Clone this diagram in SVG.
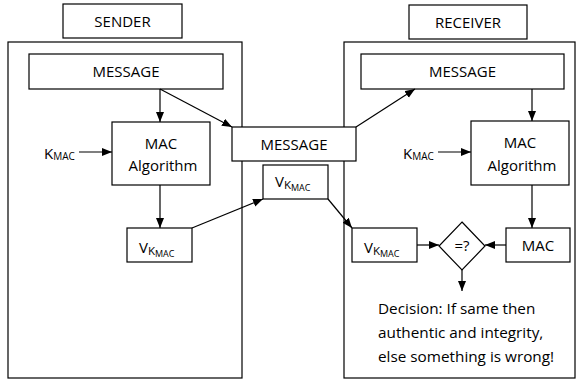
<svg xmlns="http://www.w3.org/2000/svg" width="576" height="383" viewBox="0 0 576 383">
<defs>
<marker id="ah" markerUnits="userSpaceOnUse" markerWidth="11" markerHeight="9" refX="10" refY="4" orient="auto">
<path d="M0,0 L10,4 L0,8 z" fill="#000"/>
</marker>
<style>
rect, polygon { fill: #fff; stroke: #000; stroke-width: 1.2; }
text { font-family: "Open Sans", "Liberation Sans", Arial, sans-serif; font-size: 15px; fill: #000; }
.c { text-anchor: middle; }
.k { font-size: 11.5px; }
.m { font-size: 9px; }
.m2 { font-size: 10px; }
.d { font-size: 15.3px; }
#connectors line { stroke: #000; stroke-width: 1.2; marker-end: url(#ah); }
</style>
</defs>
<rect x="0" y="0" width="576" height="383" style="fill:#fff;stroke:none"/>
<g id="sender-panel">
<rect x="8" y="42" width="234" height="336"/>
</g>
<g id="receiver-panel">
<rect x="344" y="42" width="231" height="336"/>
</g>
<g id="sender-label">
<rect x="63" y="4" width="119" height="34"/>
<text class="c" x="122.5" y="27">SENDER</text>
</g>
<g id="receiver-label">
<rect x="409" y="5" width="118" height="34"/>
<text class="c" x="468" y="28">RECEIVER</text>
</g>
<g id="sender-message">
<rect x="29" y="54" width="194" height="35"/>
<text class="c" x="126" y="77">MESSAGE</text>
</g>
<g id="sender-mac-algorithm">
<rect x="112" y="122" width="98" height="63"/>
<text class="c" x="161" y="149">MAC</text>
<text class="c" x="163" y="171">Algorithm</text>
</g>
<g id="sender-kmac">
<text x="44" y="159">K<tspan class="m2" dy="1">MAC</tspan></text>
</g>
<g id="sender-vkmac">
<rect x="127" y="228" width="65" height="34"/>
<text x="139" y="253">V<tspan class="k" dy="1.5">K</tspan><tspan class="m" dy="2.5">MAC</tspan></text>
</g>
<g id="transit-message">
<rect x="232" y="127" width="124" height="34"/>
<text class="c" x="294" y="150">MESSAGE</text>
</g>
<g id="transit-vkmac">
<rect x="263" y="165" width="65" height="34"/>
<text x="275" y="187">V<tspan class="k" dy="1.5">K</tspan><tspan class="m" dy="2.5">MAC</tspan></text>
</g>
<g id="receiver-message">
<rect x="361" y="54" width="203" height="35"/>
<text class="c" x="462.5" y="77">MESSAGE</text>
</g>
<g id="receiver-mac-algorithm">
<rect x="471" y="121" width="98" height="64"/>
<text class="c" x="520" y="148">MAC</text>
<text class="c" x="522" y="171">Algorithm</text>
</g>
<g id="receiver-kmac">
<text x="403" y="159">K<tspan class="m2" dy="1">MAC</tspan></text>
</g>
<g id="receiver-vkmac">
<rect x="352" y="228" width="65" height="34"/>
<text x="364" y="253">V<tspan class="k" dy="1.5">K</tspan><tspan class="m" dy="2.5">MAC</tspan></text>
</g>
<g id="compare">
<polygon points="462,222 485,246 462,270 439,246"/>
<text class="c" x="462" y="251">=?</text>
</g>
<g id="receiver-mac">
<rect x="506" y="228" width="64" height="34"/>
<text class="c" x="538" y="251">MAC</text>
</g>
<g id="decision">
<text class="d" x="378" y="314">Decision: If same then</text>
<text class="d" x="378" y="338">authentic and integrity,</text>
<text class="d" x="378" y="362">else something is wrong!</text>
</g>
<g id="connectors">
<line x1="160" y1="89" x2="160" y2="122"/>
<line x1="160" y1="89" x2="232" y2="127"/>
<line x1="79" y1="152" x2="112" y2="152"/>
<line x1="160" y1="185" x2="160" y2="228"/>
<line x1="192" y1="228" x2="263" y2="199"/>
<line x1="356" y1="127" x2="415" y2="89"/>
<line x1="328" y1="199" x2="352" y2="228"/>
<line x1="532" y1="89" x2="532" y2="121"/>
<line x1="438" y1="152" x2="471" y2="152"/>
<line x1="532" y1="185" x2="532" y2="228"/>
<line x1="417" y1="245" x2="439" y2="245"/>
<line x1="506" y1="245" x2="485" y2="245"/>
<line x1="462" y1="270" x2="462" y2="291"/>
</g>
</svg>
